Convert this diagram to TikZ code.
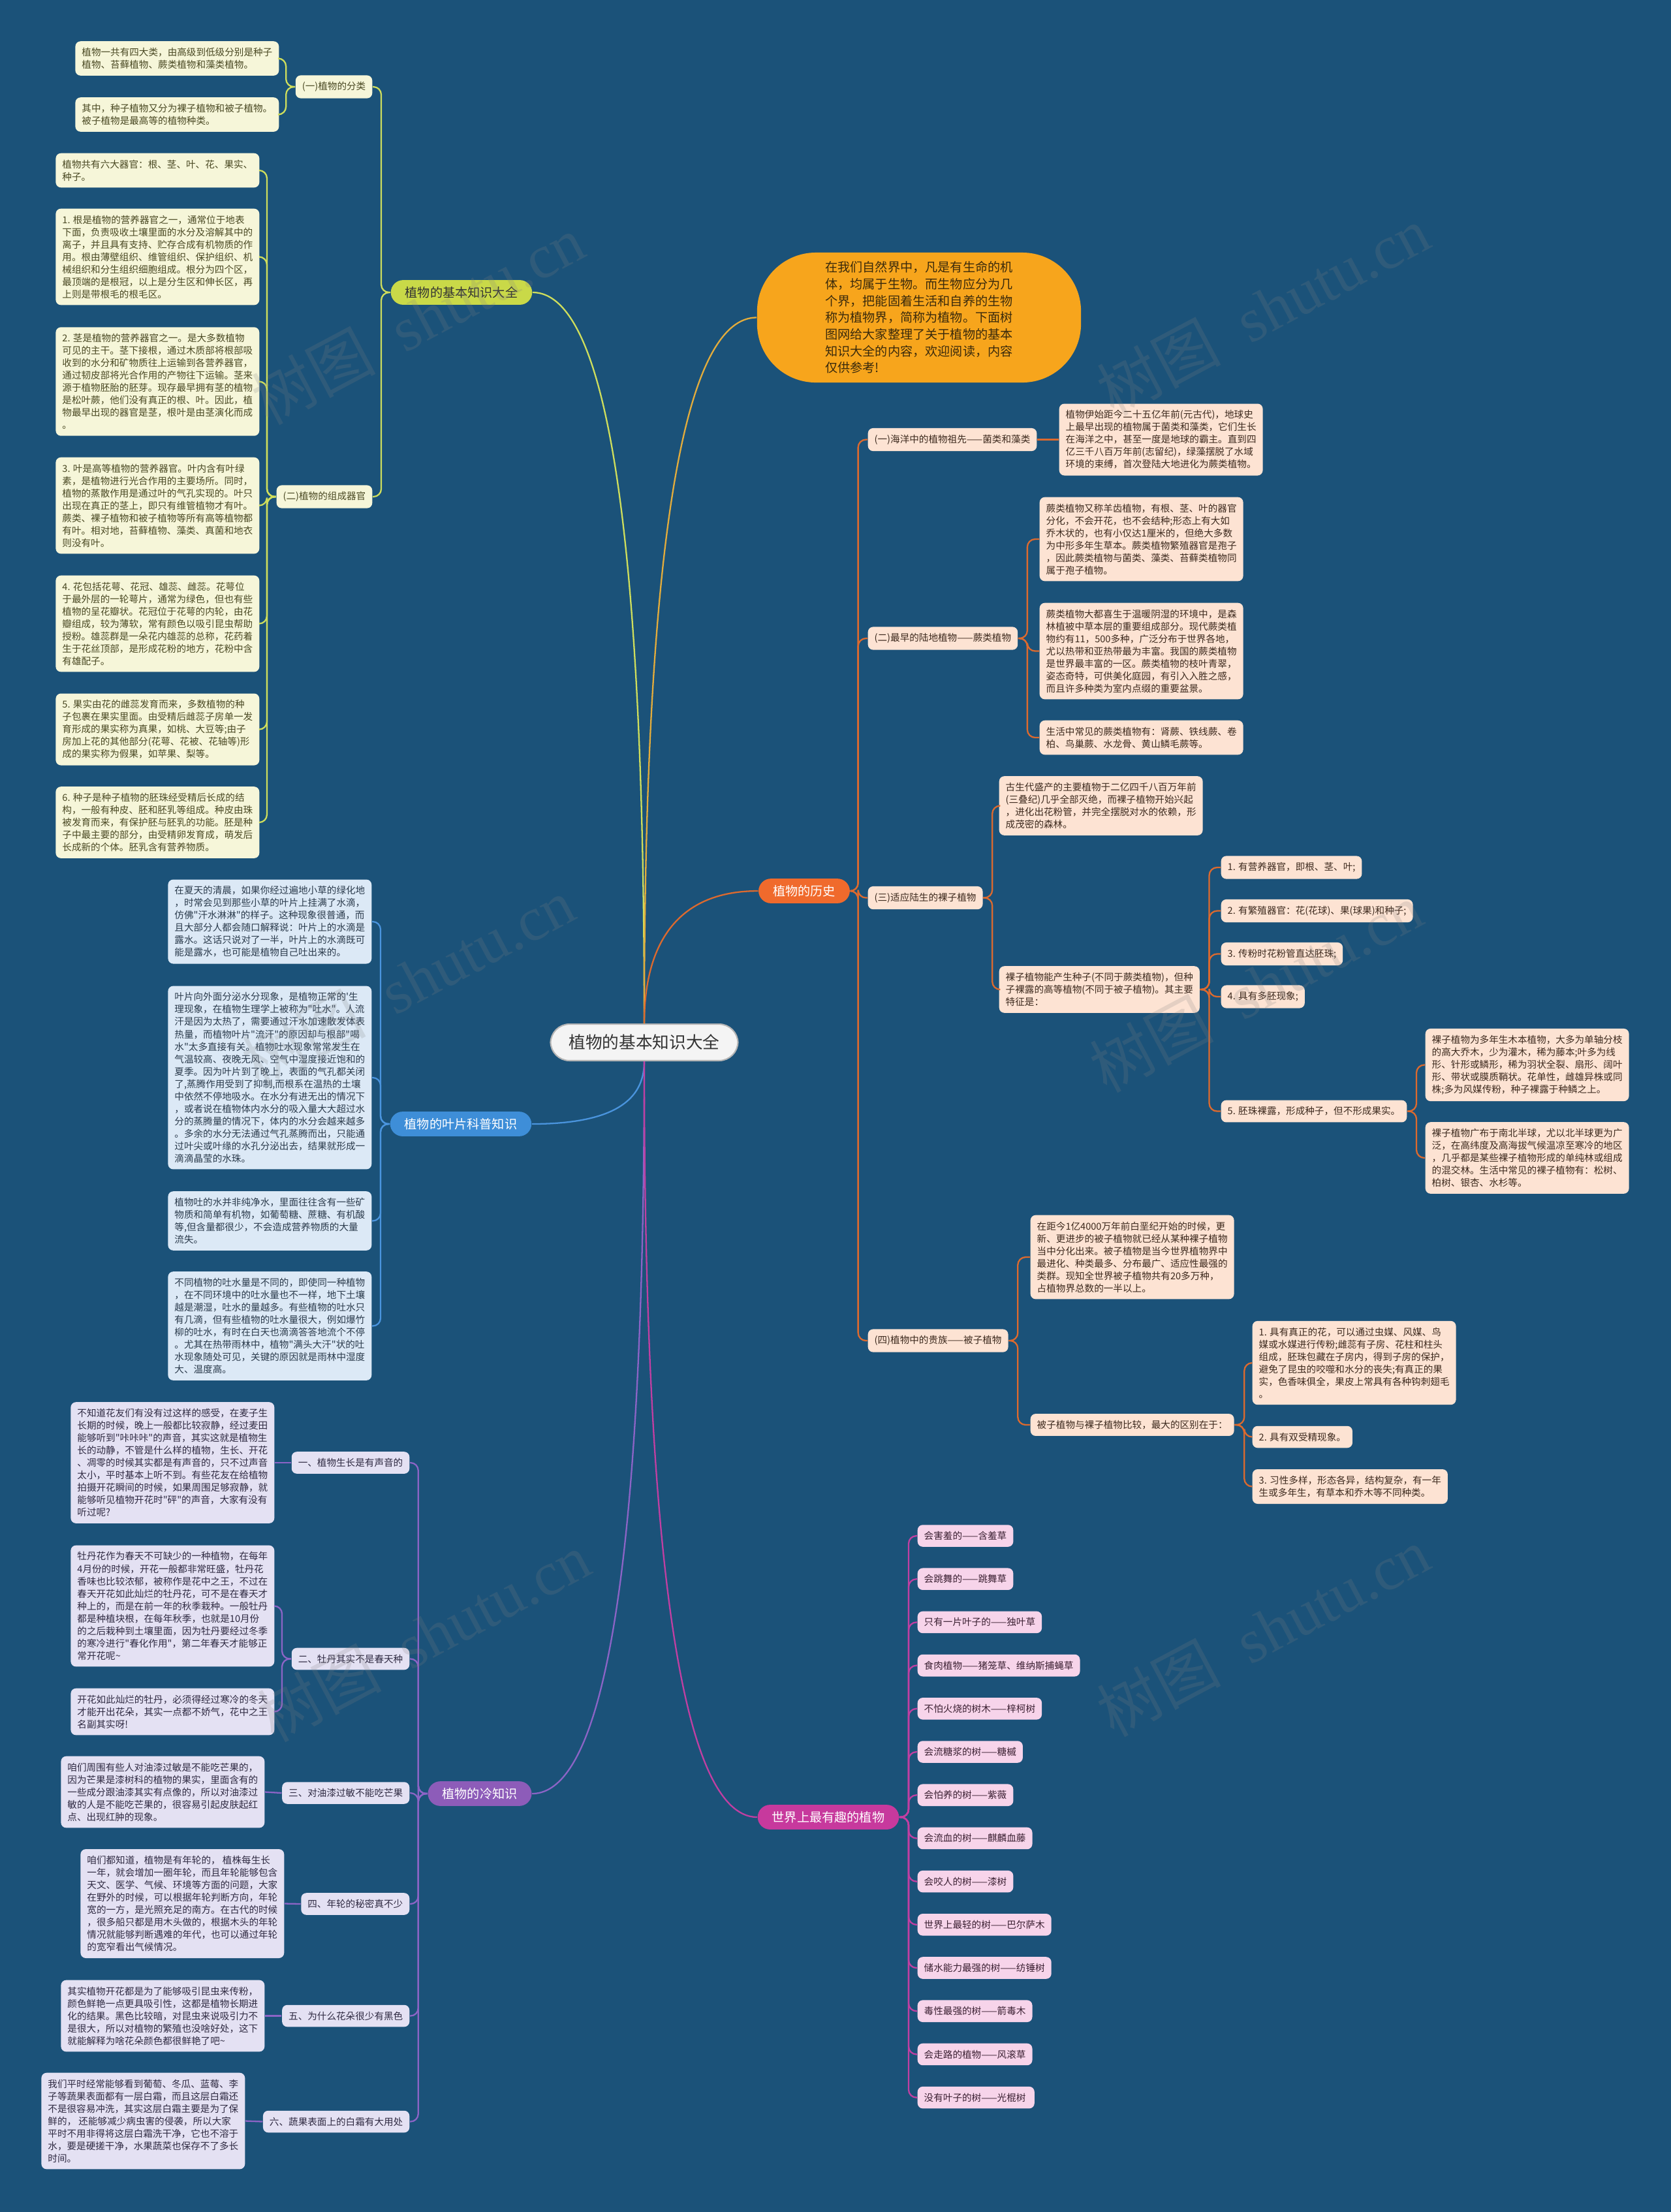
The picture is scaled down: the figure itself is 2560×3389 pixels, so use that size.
\documentclass[tikz,border=0pt]{standalone}
\usepackage{fontspec}
\setmainfont{Noto Sans CJK SC}[Ligatures=TeXOff]
\newfontfamily\wmlatin{Liberation Serif}
\usepackage{tikz}
\definecolor{mmbg}{HTML}{1B5279}
\definecolor{mmroot}{HTML}{F4F4F4}
\definecolor{mmrootline}{HTML}{B5B5B5}
\definecolor{mmdark}{HTML}{333333}
\definecolor{mmylw}{HTML}{C9D948}
\definecolor{mmylwline}{HTML}{CFDE5C}
\definecolor{mmcream}{HTML}{F6F6D9}
\definecolor{mmolive}{HTML}{4A4923}
\definecolor{mmblue}{HTML}{3E8ED8}
\definecolor{mmblueline}{HTML}{4A94DD}
\definecolor{mmlblue}{HTML}{DCE9F6}
\definecolor{mmnavy}{HTML}{2B3B4C}
\definecolor{mmpurp}{HTML}{8D5CB9}
\definecolor{mmpurpline}{HTML}{8C64C6}
\definecolor{mmlpurp}{HTML}{E4E1F3}
\definecolor{mmdpurp}{HTML}{2F2A42}
\definecolor{mmorg}{HTML}{F06A2C}
\definecolor{mmorgline}{HTML}{DD6A2E}
\definecolor{mmpeach}{HTML}{FDE3D3}
\definecolor{mmbrown}{HTML}{3D2A1E}
\definecolor{mmmag}{HTML}{C7399D}
\definecolor{mmmagline}{HTML}{C13FA2}
\definecolor{mmpink}{HTML}{F7D4EA}
\definecolor{mmplum}{HTML}{3B2032}
\definecolor{mmbub}{HTML}{F7A51C}
\definecolor{mmbubline}{HTML}{E3AC3C}
\definecolor{mmbubtext}{HTML}{3A2A0C}
\newcommand{\mmsmall}{\fontsize{4.15pt}{5.41pt}\selectfont}
\newcommand{\mmmid}{\fontsize{5.45pt}{7.3pt}\selectfont}
\newcommand{\mmbig}{\fontsize{7.3pt}{9pt}\selectfont}
\tikzset{
  rootnode/.style={fill=mmroot, draw=mmrootline, line width=0.6pt, text=mmdark, font=\mmbig, rounded corners=2.9mm, inner xsep=2.8mm, inner ysep=1.6mm},
  topic/.style={fill=#1, text=white, font=\mmmid, rounded corners=1.9mm, inner xsep=2.2mm, inner ysep=1mm},
  card/.style={fill=#1, font=\mmsmall, rounded corners=0.8mm, inner xsep=1mm, inner ysep=1mm, align=left},
  ylwbox/.style={card=mmcream, text=mmolive},
  bluebox/.style={card=mmlblue, text=mmnavy},
  purpbox/.style={card=mmlpurp, text=mmdpurp},
  orgbox/.style={card=mmpeach, text=mmbrown},
  pinkbox/.style={card=mmpink, text=mmplum},
  mmlink/.style={draw=#1, line width=0.65pt, rounded corners=1.2mm},
  wmark/.style={text=gray, opacity=0.2, font=\fontsize{27pt}{27pt}\selectfont, rotate=28},
}

\begin{document}
\begin{tikzpicture}[x=0.01cm, y=-0.01cm]
  \fill[mmbg] (0,0) rectangle (2560,3389);
  \useasboundingbox (0,0) rectangle (2560,3389);

  \node[rootnode] (root) at (987,1597) {植物的基本知识大全};

  \node[topic=mmylw, text=mmdark] (basic) at (707,448) {植物的基本知识大全};
  \node[ylwbox, anchor=east] (cls) at (571,133) {(一)植物的分类};
  \node[ylwbox, anchor=east] (organ) at (571,761) {(二)植物的组成器官};
  \node[ylwbox, anchor=east] (cls1) at (428,89.5) {植物一共有四大类，由高级到低级分别是种子\\
    植物、苔藓植物、蕨类植物和藻类植物。};
  \node[ylwbox, anchor=east] (cls2) at (428,175.5) {其中，种子植物又分为裸子植物和被子植物。\\
    被子植物是最高等的植物种类。};
  \node[ylwbox, anchor=east] (org0) at (398,261) {植物共有六大器官：根、茎、叶、花、果实、\\
    种子。};
  \node[ylwbox, anchor=east] (org1) at (398,393.5) {1. 根是植物的营养器官之一，通常位于地表\\
    下面，负责吸收土壤里面的水分及溶解其中的\\
    离子，并且具有支持、贮存合成有机物质的作\\
    用。根由薄壁组织、维管组织、保护组织、机\\
    械组织和分生组织细胞组成。根分为四个区，\\
    最顶端的是根冠，以上是分生区和伸长区，再\\
    上则是带根毛的根毛区。};
  \node[ylwbox, anchor=east] (org2) at (398,584.5) {2. 茎是植物的营养器官之一。是大多数植物\\
    可见的主干。茎下接根，通过木质部将根部吸\\
    收到的水分和矿物质往上运输到各营养器官，\\
    通过韧皮部将光合作用的产物往下运输。茎来\\
    源于植物胚胎的胚芽。现存最早拥有茎的植物\\
    是松叶蕨，他们没有真正的根、叶。因此，植\\
    物最早出现的器官是茎，根叶是由茎演化而成\\
    。};
  \node[ylwbox, anchor=east] (org3) at (398,774.5) {3. 叶是高等植物的营养器官。叶内含有叶绿\\
    素，是植物进行光合作用的主要场所。同时，\\
    植物的蒸散作用是通过叶的气孔实现的。叶只\\
    出现在真正的茎上，即只有维管植物才有叶。\\
    蕨类、裸子植物和被子植物等所有高等植物都\\
    有叶。相对地，苔藓植物、藻类、真菌和地衣\\
    则没有叶。};
  \node[ylwbox, anchor=east] (org4) at (398,955.5) {4. 花包括花萼、花冠、雄蕊、雌蕊。花萼位\\
    于最外层的一轮萼片，通常为绿色，但也有些\\
    植物的呈花瓣状。花冠位于花萼的内轮，由花\\
    瓣组成，较为薄软，常有颜色以吸引昆虫帮助\\
    授粉。雄蕊群是一朵花内雄蕊的总称，花药着\\
    生于花丝顶部，是形成花粉的地方，花粉中含\\
    有雄配子。};
  \node[ylwbox, anchor=east] (org5) at (398,1117.5) {5. 果实由花的雌蕊发育而来，多数植物的种\\
    子包裹在果实里面。由受精后雌蕊子房单一发\\
    育形成的果实称为真果，如桃、大豆等;由子\\
    房加上花的其他部分(花萼、花被、花轴等)形\\
    成的果实称为假果，如苹果、梨等。};
  \node[ylwbox, anchor=east] (org6) at (398,1260) {6. 种子是种子植物的胚珠经受精后长成的结\\
    构，一般有种皮、胚和胚乳等组成。种皮由珠\\
    被发育而来，有保护胚与胚乳的功能。胚是种\\
    子中最主要的部分，由受精卵发育成，萌发后\\
    长成新的个体。胚乳含有营养物质。};
  \draw[mmlink=mmylwline] (root.north) .. controls +(0,-560) and +(140,0) .. (basic.east);
  \foreach \c in {cls,organ} \draw[mmlink=mmylwline] (basic.west) -- ++(-14,0) |- (\c.east);
  \foreach \c in {cls1,cls2} \draw[mmlink=mmylwline] (cls.west) -- ++(-14,0) |- (\c.east);
  \foreach \i in {0,...,6} \draw[mmlink=mmylwline] (organ.west) -- ++(-14,0) |- (org\i.east);

  \node[topic=mmblue] (leaf) at (706,1722) {植物的叶片科普知识};
  \node[bluebox, anchor=east] (leaf1) at (570,1412) {在夏天的清晨，如果你经过遍地小草的绿化地\\
    ，时常会见到那些小草的叶片上挂满了水滴，\\
    仿佛"汗水淋淋"的样子。这种现象很普通，而\\
    且大部分人都会随口解释说：叶片上的水滴是\\
    露水。这话只说对了一半，叶片上的水滴既可\\
    能是露水，也可能是植物自己吐出来的。};
  \node[bluebox, anchor=east] (leaf2) at (570,1651) {叶片向外面分泌水分现象，是植物正常的'生\\
    理现象，在植物生理学上被称为"吐水"。人流\\
    汗是因为太热了，需要通过汗水加速散发体表\\
    热量，而植物叶片"流汗"的原因却与根部"喝\\
    水"太多直接有关。植物吐水现象常常发生在\\
    气温较高、夜晚无风、空气中湿度接近饱和的\\
    夏季。因为叶片到了晚上，表面的气孔都关闭\\
    了,蒸腾作用受到了抑制,而根系在温热的土壤\\
    中依然不停地吸水。在水分有进无出的情况下\\
    ，或者说在植物体内水分的吸入量大大超过水\\
    分的蒸腾量的情况下，体内的水分会越来越多\\
    。多余的水分无法通过气孔蒸腾而出，只能通\\
    过叶尖或叶缘的水孔分泌出去，结果就形成一\\
    滴滴晶莹的水珠。};
  \node[bluebox, anchor=east] (leaf3) at (570,1870.5) {植物吐的水并非纯净水，里面往往含有一些矿\\
    物质和简单有机物，如葡萄糖、蔗糖、有机酸\\
    等,但含量都很少，不会造成营养物质的大量\\
    流失。};
  \node[bluebox, anchor=east] (leaf4) at (570,2031.5) {不同植物的吐水量是不同的，即使同一种植物\\
    ，在不同环境中的吐水量也不一样，地下土壤\\
    越是潮湿，吐水的量越多。有些植物的吐水只\\
    有几滴，但有些植物的吐水量很大，例如爆竹\\
    柳的吐水，有时在白天也滴滴答答地流个不停\\
    。尤其在热带雨林中，植物"满头大汗"状的吐\\
    水现象随处可见，关键的原因就是雨林中湿度\\
    大、温度高。};
  \draw[mmlink=mmblueline] (root.south) .. controls +(0,50) and +(140,0) .. (leaf.east);
  \foreach \i in {1,...,4} \draw[mmlink=mmblueline] (leaf.west) -- ++(-14,0) |- (leaf\i.east);

  \node[topic=mmpurp] (cold) at (735,2748) {植物的冷知识};
  \node[purpbox, anchor=east] (cold1) at (628,2241) {一、植物生长是有声音的};
  \node[purpbox, anchor=east] (cold2) at (628,2541.5) {二、牡丹其实不是春天种};
  \node[purpbox, anchor=east] (cold3) at (628,2747) {三、对油漆过敏不能吃芒果};
  \node[purpbox, anchor=east] (cold4) at (628,2917) {四、年轮的秘密真不少};
  \node[purpbox, anchor=east] (cold5) at (628,3088.5) {五、为什么花朵很少有黑色};
  \node[purpbox, anchor=east] (cold6) at (628,3250.5) {六、蔬果表面上的白霜有大用处};
  \node[purpbox, anchor=east] (sound) at (421,2241) {不知道花友们有没有过这样的感受，在麦子生\\
    长期的时候，晚上一般都比较寂静，经过麦田\\
    能够听到"咔咔咔"的声音，其实这就是植物生\\
    长的动静，不管是什么样的植物，生长、开花\\
    、凋零的时候其实都是有声音的，只不过声音\\
    太小，平时基本上听不到。有些花友在给植物\\
    拍摄开花瞬间的时候，如果周围足够寂静，就\\
    能够听见植物开花时"砰"的声音，大家有没有\\
    听过呢?};
  \node[purpbox, anchor=east] (peony1) at (421,2460.5) {牡丹花作为春天不可缺少的一种植物，在每年\\
    4月份的时候，开花一般都非常旺盛，牡丹花\\
    香味也比较浓郁，被称作是花中之王，不过在\\
    春天开花如此灿烂的牡丹花，可不是在春天才\\
    种上的，而是在前一年的秋季栽种。一般牡丹\\
    都是种植块根，在每年秋季，也就是10月份\\
    的之后栽种到土壤里面，因为牡丹要经过冬季\\
    的寒冷进行"春化作用"，第二年春天才能够正\\
    常开花呢\textasciitilde};
  \node[purpbox, anchor=east] (peony2) at (421,2622.5) {开花如此灿烂的牡丹，必须得经过寒冷的冬天\\
    才能开出花朵，其实一点都不娇气，花中之王\\
    名副其实呀!};
  \node[purpbox, anchor=east] (mango) at (406,2745.5) {咱们周围有些人对油漆过敏是不能吃芒果的，\\
    因为芒果是漆树科的植物的果实，里面含有的\\
    一些成分跟油漆其实有点像的，所以对油漆过\\
    敏的人是不能吃芒果的，很容易引起皮肤起红\\
    点、出现红肿的现象。};
  \node[purpbox, anchor=east] (rings) at (436,2916.5) {咱们都知道，植物是有年轮的， 植株每生长\\
    一年，就会增加一圈年轮，而且年轮能够包含\\
    天文、医学、气候、环境等方面的问题，大家\\
    在野外的时候，可以根据年轮判断方向，年轮\\
    宽的一方，是光照充足的南方。在古代的时候\\
    ，很多船只都是用木头做的，根据木头的年轮\\
    情况就能够判断遇难的年代，也可以通过年轮\\
    的宽窄看出气候情况。};
  \node[purpbox, anchor=east] (black) at (406,3088.5) {其实植物开花都是为了能够吸引昆虫来传粉，\\
    颜色鲜艳一点更具吸引性，这都是植物长期进\\
    化的结果。黑色比较暗，对昆虫来说吸引力不\\
    是很大，所以对植物的繁殖也没啥好处，这下\\
    就能解释为啥花朵颜色都很鲜艳了吧\textasciitilde};
  \node[purpbox, anchor=east] (frost) at (376,3249.5) {我们平时经常能够看到葡萄、冬瓜、蓝莓、李\\
    子等蔬果表面都有一层白霜，而且这层白霜还\\
    不是很容易冲洗，其实这层白霜主要是为了保\\
    鲜的， 还能够减少病虫害的侵袭，所以大家\\
    平时不用非得将这层白霜洗干净，它也不溶于\\
    水，要是硬搓干净，水果蔬菜也保存不了多长\\
    时间。};
  \draw[mmlink=mmpurpline] (root.south) .. controls +(0,560) and +(140,0) .. (cold.east);
  \foreach \i in {1,...,6} \draw[mmlink=mmpurpline] (cold.west) -- ++(-14,0) |- (cold\i.east);
  \draw[mmlink=mmpurpline] (cold1.west) -- (sound.east);
  \foreach \c in {peony1,peony2} \draw[mmlink=mmpurpline] (cold2.west) -- ++(-14,0) |- (\c.east);
  \draw[mmlink=mmpurpline] (cold3.west) -- (mango.east);
  \draw[mmlink=mmpurpline] (cold4.west) -- (rings.east);
  \draw[mmlink=mmpurpline] (cold5.west) -- (black.east);
  \draw[mmlink=mmpurpline] (cold6.west) -- (frost.east);

  \node[fill=mmbub, text=mmbubtext, font=\mmmid, rounded corners=9mm, minimum width=4.96cm, minimum height=1.99cm, align=left] (intro) at (1408,486.5) {在我们自然界中，凡是有生命的机\\
    体，均属于生物。而生物应分为几\\
    个界，把能固着生活和自养的生物\\
    称为植物界，简称为植物。下面树\\
    图网给大家整理了关于植物的基本\\
    知识大全的内容，欢迎阅读，内容\\
    仅供参考!};
  \draw[mmlink=mmbubline] (root.north) .. controls +(0,-540) and +(-140,0) .. (intro.west);

  \node[topic=mmorg] (hist) at (1232,1365) {植物的历史};
  \node[orgbox, anchor=west] (h1) at (1329,673.5) {(一)海洋中的植物祖先——菌类和藻类};
  \node[orgbox, anchor=west] (h2) at (1329,978) {(二)最早的陆地植物——蕨类植物};
  \node[orgbox, anchor=west] (h3) at (1329,1375.5) {(三)适应陆生的裸子植物};
  \node[orgbox, anchor=west] (h4) at (1329,2054) {(四)植物中的贵族——被子植物};
  \node[orgbox, anchor=west] (h1a) at (1622,673.5) {植物伊始距今二十五亿年前(元古代)，地球史\\
    上最早出现的植物属于菌类和藻类，它们生长\\
    在海洋之中，甚至一度是地球的霸主。直到四\\
    亿三千八百万年前(志留纪)，绿藻摆脱了水域\\
    环境的束缚，首次登陆大地进化为蕨类植物。};
  \node[orgbox, anchor=west] (h2a) at (1592,826) {蕨类植物又称羊齿植物，有根、茎、叶的器官\\
    分化，不会开花，也不会结种;形态上有大如\\
    乔木状的，也有小仅达1厘米的，但绝大多数\\
    为中形多年生草本。蕨类植物繁殖器官是孢子\\
    ，因此蕨类植物与菌类、藻类、苔藓类植物同\\
    属于孢子植物。};
  \node[orgbox, anchor=west] (h2b) at (1592,997.5) {蕨类植物大都喜生于温暖阴湿的环境中，是森\\
    林植被中草本层的重要组成部分。现代蕨类植\\
    物约有11，500多种，广泛分布于世界各地，\\
    尤以热带和亚热带最为丰富。我国的蕨类植物\\
    是世界最丰富的一区。蕨类植物的枝叶青翠，\\
    姿态奇特，可供美化庭园，有引入入胜之感，\\
    而且许多种类为室内点缀的重要盆景。};
  \node[orgbox, anchor=west] (h2c) at (1592,1130) {生活中常见的蕨类植物有：肾蕨、铁线蕨、卷\\
    柏、鸟巢蕨、水龙骨、黄山鳞毛蕨等。};
  \node[orgbox, anchor=west] (h3a) at (1530,1234.5) {古生代盛产的主要植物于二亿四千八百万年前\\
    (三叠纪)几乎全部灭绝，而裸子植物开始兴起\\
    ，进化出花粉管，并完全摆脱对水的依赖，形\\
    成茂密的森林。};
  \node[orgbox, anchor=west] (h3b) at (1530,1516) {裸子植物能产生种子(不同于蕨类植物)，但种\\
    子裸露的高等植物(不同于被子植物)。其主要\\
    特征是：};
  \node[orgbox, anchor=west] (h3b1) at (1870,1329) {1. 有营养器官，即根、茎、叶;};
  \node[orgbox, anchor=west] (h3b2) at (1870,1395.5) {2. 有繁殖器官：花(花球)、果(球果)和种子;};
  \node[orgbox, anchor=west] (h3b3) at (1870,1461.5) {3. 传粉时花粉管直达胚珠;};
  \node[orgbox, anchor=west] (h3b4) at (1870,1527) {4. 具有多胚现象;};
  \node[orgbox, anchor=west] (h3b5) at (1870,1702.5) {5. 胚珠裸露，形成种子，但不形成果实。};
  \node[orgbox, anchor=west] (gym1) at (2183,1631.5) {裸子植物为多年生木本植物，大多为单轴分枝\\
    的高大乔木，少为灌木，稀为藤本;叶多为线\\
    形、针形或鳞形，稀为羽状全裂、扇形、阔叶\\
    形、带状或膜质鞘状。花单性，雌雄异株或同\\
    株;多为风媒传粉，种子裸露于种鳞之上。};
  \node[orgbox, anchor=west] (gym2) at (2183,1774) {裸子植物广布于南北半球，尤以北半球更为广\\
    泛，在高纬度及高海拔气候温凉至寒冷的地区\\
    ，几乎都是某些裸子植物形成的单纯林或组成\\
    的混交林。生活中常见的裸子植物有：松树、\\
    柏树、银杏、水杉等。};
  \node[orgbox, anchor=west] (h4a) at (1578,1926) {在距今1亿4000万年前白垩纪开始的时候，更\\
    新、更进步的被子植物就已经从某种裸子植物\\
    当中分化出来。被子植物是当今世界植物界中\\
    最进化、种类最多、分布最广、适应性最强的\\
    类群。现知全世界被子植物共有20多万种，\\
    占植物界总数的一半以上。};
  \node[orgbox, anchor=west] (h4b) at (1578,2183) {被子植物与裸子植物比较，最大的区别在于：};
  \node[orgbox, anchor=west] (h4b1) at (1918,2088) {1. 具有真正的花，可以通过虫媒、风媒、鸟\\
    媒或水媒进行传粉;雌蕊有子房、花柱和柱头\\
    组成，胚珠包藏在子房内，得到子房的保护，\\
    避免了昆虫的咬噬和水分的丧失;有真正的果\\
    实，色香味俱全，果皮上常具有各种钩刺翅毛\\
    。};
  \node[orgbox, anchor=west] (h4b2) at (1918,2201.5) {2. 具有双受精现象。};
  \node[orgbox, anchor=west] (h4b3) at (1918,2277.5) {3. 习性多样，形态各异，结构复杂，有一年\\
    生或多年生，有草本和乔木等不同种类。};
  \draw[mmlink=mmorgline] (root.north) .. controls +(0,-100) and +(-140,0) .. (hist.west);
  \foreach \i in {1,...,4} \draw[mmlink=mmorgline] (hist.east) -- ++(12,0) |- (h\i.west);
  \draw[mmlink=mmorgline] (h1.east) -- (h1a.west);
  \foreach \c in {h2a,h2b,h2c} \draw[mmlink=mmorgline] (h2.east) -- ++(14,0) |- (\c.west);
  \foreach \c in {h3a,h3b} \draw[mmlink=mmorgline] (h3.east) -- ++(14,0) |- (\c.west);
  \foreach \i in {1,...,5} \draw[mmlink=mmorgline] (h3b.east) -- ++(14,0) |- (h3b\i.west);
  \foreach \c in {gym1,gym2} \draw[mmlink=mmorgline] (h3b5.east) -- ++(14,0) |- (\c.west);
  \foreach \c in {h4a,h4b} \draw[mmlink=mmorgline] (h4.east) -- ++(14,0) |- (\c.west);
  \foreach \i in {1,2,3} \draw[mmlink=mmorgline] (h4b.east) -- ++(15,0) |- (h4b\i.west);

  \node[topic=mmmag] (fun) at (1269,2784) {世界上最有趣的植物};
  \foreach \i/\txt in {
    0/会害羞的——含羞草,
    1/会跳舞的——跳舞草,
    2/只有一片叶子的——独叶草,
    3/食肉植物——猪笼草、维纳斯捕蝇草,
    4/不怕火烧的树木——梓柯树,
    5/会流糖浆的树——糖槭,
    6/会怕养的树——紫薇,
    7/会流血的树——麒麟血藤,
    8/会咬人的树——漆树,
    9/世界上最轻的树——巴尔萨木,
    10/储水能力最强的树——纺锤树,
    11/毒性最强的树——箭毒木,
    12/会走路的植物——风滚草,
    13/没有叶子的树——光棍树
  } {
    \node[pinkbox, anchor=west] (fun\i) at (1405,2353+66.2*\i) {\txt};
    \draw[mmlink=mmmagline] (fun.east) -- ++(14,0) |- (fun\i.west);
  }
  \draw[mmlink=mmmagline] (root.south) .. controls +(0,580) and +(-140,0) .. (fun.west);

  \foreach \wx/\wy in {640/490, 1935/476, 625/1505, 1924/1513, 649/2508, 1935/2500}
    \node[wmark] at (\wx,\wy) {树图\hspace{0.5em}{\wmlatin shutu.cn}};
\end{tikzpicture}
\end{document}
